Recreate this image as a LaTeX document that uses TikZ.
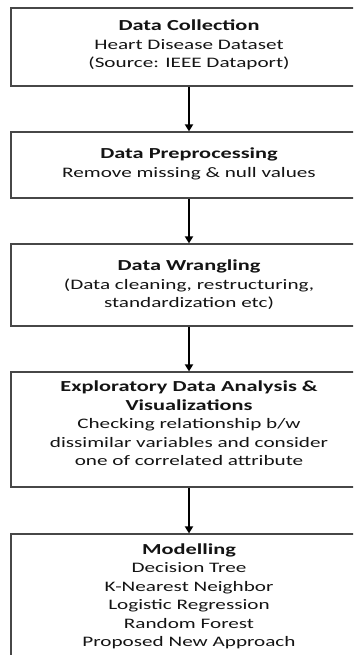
\documentclass[tikz,border=0pt]{standalone}
\usepackage{fontspec}
\setmainfont{Carlito}[FakeStretch=1.46]
\usetikzlibrary{arrows.meta}
\definecolor{frame}{HTML}{474747}
\definecolor{ink}{HTML}{141414}
\newcommand{\stagetitle}[1]{{\fontsize{15.3}{18.5}\selectfont\bfseries #1}}
\begin{document}
\begin{tikzpicture}[x=1pt,y=-1pt,
  stage/.style={draw=frame, line width=1.2pt, rectangle, minimum width=356pt, inner sep=0pt},
  caption/.style={align=center, text=ink, inner sep=0pt,
    font=\fontsize{14.5}{18.5}\selectfont},
  flow/.style={line width=1.8pt, draw=black, -{Triangle[length=7pt,width=8pt]}}]
  \useasboundingbox (0,0) rectangle (353,655);
  \clip (0,0) rectangle (353,655);
  \fill[white] (0,0) rectangle (353,655);

  % stage frames
  \node[stage, minimum height=78pt]  (b1) at (189,47)    {};
  \node[stage, minimum height=66pt]  (b2) at (189,165)   {};
  \node[stage, minimum height=82pt]  (b3) at (189,285)   {};
  \node[stage, minimum height=115pt] (b4) at (189,429.5) {};
  \node[stage, minimum height=150pt] (b5) at (189,609)   {};

  % stage captions
  \node[caption] (t1) at (189,45)
    {\stagetitle{Data Collection}\\Heart Disease Dataset\\(Source: IEEE Dataport)};
  \node[caption] (t2) at (189,164)
    {\stagetitle{Data Preprocessing}\\Remove missing \& null values};
  \node[caption] (t3) at (189,285)
    {\stagetitle{Data Wrangling}\\(Data cleaning, restructuring,\\standardization etc)};
  \node[caption] (t4) at (189,423.5)
    {\stagetitle{Exploratory Data Analysis \&}\\\stagetitle{Visualizations}\\Checking relationship b/w\\dissimilar variables and consider\\one of correlated attribute};
  \node[caption] (t5) at (189,596.5)
    {\stagetitle{Modelling}\\Decision Tree\\K-Nearest Neighbor\\Logistic Regression\\Random Forest\\Proposed New Approach};

  % flow between stages
  \draw[flow] (b1.south) -- (b2.north);
  \draw[flow] (b2.south) -- (b3.north);
  \draw[flow] (b3.south) -- (b4.north);
  \draw[flow] (b4.south) -- (b5.north);
\end{tikzpicture}
\end{document}
